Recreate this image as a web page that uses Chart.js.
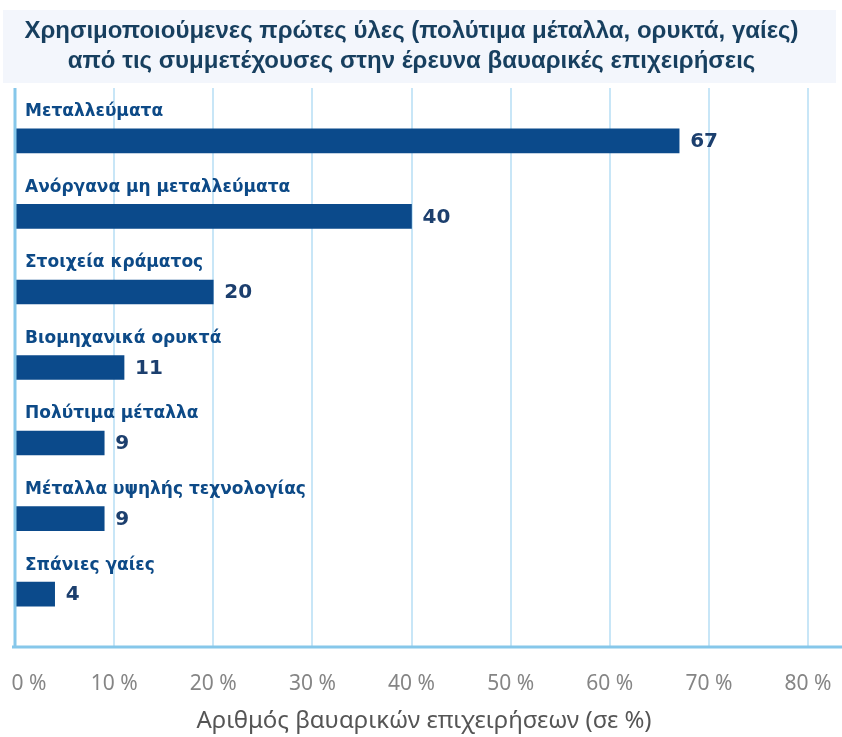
<!DOCTYPE html>
<html lang="el">
<head>
<meta charset="utf-8">
<title>Πρώτες ύλες</title>
<script src="https://cdn.jsdelivr.net/npm/chart.js@4.4.1/dist/chart.umd.min.js"></script>
<style>
  html, body { margin: 0; padding: 0; background: #fff; }
</style>
</head>
<body>
<canvas id="chart" width="842" height="737"></canvas>
<script>
const titleLines = [
  'Χρησιμοποιούμενες πρώτες ύλες (πολύτιμα μέταλλα, ορυκτά, γαίες)',
  'από τις συμμετέχουσες στην έρευνα βαυαρικές επιχειρήσεις'
];
const categories = [
  'Μεταλλεύματα',
  'Ανόργανα μη μεταλλεύματα',
  'Στοιχεία κράματος',
  'Βιομηχανικά ορυκτά',
  'Πολύτιμα μέταλλα',
  'Μέταλλα υψηλής τεχνολογίας',
  'Σπάνιες γαίες'
];
const values = [67, 40, 20, 11, 9, 9, 4];
const tickLabels = ['0 %', '10 %', '20 %', '30 %', '40 %', '50 %', '60 %', '70 %', '80 %'];
const axisTitle = 'Αριθμός βαυαρικών επιχειρήσεων (σε %)';

const axisBlue = '#86c7ea';

// background box behind title + axis lines, labels, ticks
const extras = {
  id: 'extras',
  beforeDraw(chart) {
    const c = chart.ctx;
    c.save();
    c.fillStyle = '#f3f6fc';
    c.fillRect(3, 10, 833, 73);
    c.restore();
  },
  afterDatasetsDraw(chart) {
    const c = chart.ctx;
    const xs = chart.scales.x, ys = chart.scales.y;
    const area = chart.chartArea;
    c.save();
    // axis lines
    c.strokeStyle = axisBlue;
    c.lineWidth = 3;
    c.beginPath();
    c.moveTo(xs.getPixelForValue(0), area.top);
    c.lineTo(xs.getPixelForValue(0), area.bottom);
    c.moveTo(12, area.bottom);
    c.lineTo(chart.width, area.bottom);
    c.stroke();

    // category labels above bars
    c.fillStyle = '#0d4a87';
    c.font = 'bold 17px "DejaVu Sans"';
    c.textAlign = 'left';
    c.textBaseline = 'middle';
    categories.forEach((cat, i) => {
      c.fillText(cat, xs.getPixelForValue(0) + 10, ys.getPixelForValue(i) - 29);
    });

    // value labels
    c.fillStyle = '#1c3f6e';
    c.font = 'bold 20px "DejaVu Sans"';
    values.forEach((v, i) => {
      c.fillText(String(v), xs.getPixelForValue(v) + 11, ys.getPixelForValue(i) + 1);
    });

    // tick labels
    c.fillStyle = '#858585';
    c.font = '21px "Noto Sans"';
    c.textAlign = 'center';
    tickLabels.forEach((t, i) => {
      let x = xs.getPixelForValue(i * 10);
      if (i === 0) x += 14;
      c.fillText(t, x, 684);
    });

    // axis title
    c.fillStyle = '#555555';
    c.font = '24px "Noto Sans"';
    c.fillText(axisTitle, chart.width / 2 + 3, 721);
    c.restore();
  }
};

const ctx = document.getElementById('chart');
new Chart(ctx, {
  type: 'bar',
  data: {
    labels: categories,
    datasets: [{
      data: values.map((v, i) => ({ x: v, y: i })),
      backgroundColor: '#0b4a8b',
      barThickness: 24,
      borderWidth: 0
    }]
  },
  options: {
    responsive: false,
    animation: false,
    indexAxis: 'y',
    layout: {
      padding: { left: 15, right: 34, top: 0, bottom: 90 }
    },
    plugins: {
      legend: { display: false },
      tooltip: { enabled: false },
      title: {
        display: true,
        text: titleLines,
        color: '#173f5f',
        font: { family: '"Liberation Sans"', size: 24, weight: 'bold', lineHeight: 1.25 },
        padding: { top: 16, bottom: 12 }
      }
    },
    scales: {
      x: {
        type: 'linear',
        min: 0,
        max: 80,
        ticks: { stepSize: 10, display: false },
        grid: { color: '#c8e6f7', lineWidth: 2, drawTicks: false },
        border: { display: false }
      },
      y: {
        type: 'linear',
        reverse: true,
        offset: false,
        min: -0.7,
        max: 6.7,
        display: false
      }
    }
  },
  plugins: [extras]
});
</script>
</body>
</html>
